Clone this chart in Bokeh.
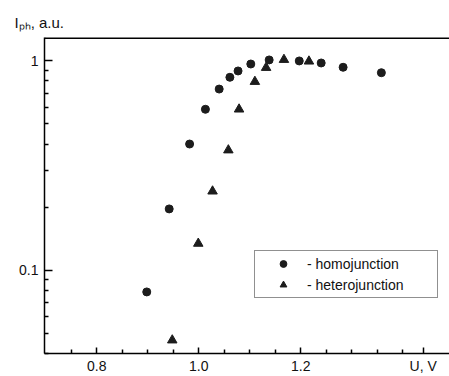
from bokeh.plotting import figure
from bokeh.models import (FixedTicker, Range1d, Legend, LegendItem, Span, Title,
                          CustomJSTickFormatter)
from bokeh.embed import file_html
from bokeh.resources import INLINE

# ---- data ----
homo_v = [0.898, 0.942, 0.982, 1.013, 1.040, 1.061, 1.077, 1.102, 1.138, 1.197, 1.240, 1.283, 1.358]
homo_i = [0.0787, 0.196, 0.400, 0.586, 0.732, 0.833, 0.893, 0.964, 1.008, 0.997, 0.975, 0.930, 0.876]

hetero_v = [0.948, 0.999, 1.027, 1.058, 1.079, 1.110, 1.132, 1.167, 1.216]
hetero_i = [0.0463, 0.134, 0.238, 0.374, 0.586, 0.794, 0.926, 1.011, 0.993]

# x axis: labelled positions (the last one carries the axis title "U, V")
x_label_pos = [0.8, 1.0, 1.2, 1.44]
x_labels = ["0.8", "1.0", "1.2", "U, V"]
x_minor = [0.75, 0.85, 0.9, 0.95, 1.05, 1.1, 1.15, 1.25, 1.3, 1.35, 1.4]

y_major = [0.1, 1.0]
y_labels = ["0.1", "1"]
y_minor = [0.04, 0.05, 0.06, 0.07, 0.08, 0.09, 0.2, 0.3, 0.4, 0.5, 0.6, 0.7, 0.8, 0.9]

y_title = "I\u209a\u2095, a.u."
legend_labels = ["- homojunction", "- heterojunction"]

x_start, x_end = 0.6975, 1.4916
y_start, y_end = 0.04, 1.29

FONT = "Liberation Sans"
INK = "#111111"
MARK = "#1c1c1c"

p = figure(width=449, height=376, x_range=Range1d(x_start, x_end),
           y_range=Range1d(y_start, y_end), y_axis_type="log",
           output_backend="svg", toolbar_location=None,
           min_border_left=44, min_border_top=37, min_border_bottom=22,
           min_border_right=0, background_fill_color="white",
           border_fill_color="white", outline_line_color=None)
p.xgrid.visible = False
p.ygrid.visible = False

p.title = Title(text=y_title, align="left", offset=-30, standoff=14,
                text_font=FONT, text_font_size="15px", text_font_style="normal",
                text_color=INK)

r_homo = p.scatter(homo_v, homo_i, marker="circle", size=8,
                   fill_color=MARK, line_color=MARK)
r_het = p.scatter(hetero_v, hetero_i, marker="triangle", size=9.5,
                  fill_color=MARK, line_color=MARK)

# x axis (ticks inward)
xa = p.xaxis[0]
xa.ticker = FixedTicker(ticks=x_label_pos, minor_ticks=x_minor)
xa.formatter = CustomJSTickFormatter(
    args=dict(pos=x_label_pos, labels=x_labels),
    code="const i = pos.indexOf(tick); return i >= 0 ? labels[i] : '';")
xa.major_tick_in = 6
xa.major_tick_out = 0
xa.minor_tick_in = 4
xa.minor_tick_out = 0
xa.axis_line_width = 1.5
xa.major_tick_line_width = 1.5
xa.minor_tick_line_width = 1.5
xa.axis_line_color = "black"
xa.major_tick_line_color = "black"
xa.minor_tick_line_color = "black"
xa.major_label_text_font = FONT
xa.major_label_text_font_size = "14px"
xa.major_label_text_color = INK
xa.major_label_standoff = 4

# y axis
ya = p.yaxis[0]
ya.ticker = FixedTicker(ticks=y_major, minor_ticks=y_minor)
ya.formatter = CustomJSTickFormatter(
    args=dict(pos=y_major, labels=y_labels),
    code="const i = pos.indexOf(tick); return i >= 0 ? labels[i] : '';")
ya.major_tick_in = 8
ya.major_tick_out = 0
ya.minor_tick_in = 4
ya.minor_tick_out = 0
ya.axis_line_width = 1.5
ya.major_tick_line_width = 1.5
ya.minor_tick_line_width = 1.5
ya.axis_line_color = "black"
ya.major_tick_line_color = "black"
ya.minor_tick_line_color = "black"
ya.major_label_text_font = FONT
ya.major_label_text_font_size = "14px"
ya.major_label_text_color = INK
ya.major_label_standoff = 6

# top frame line
p.add_layout(Span(location=y_end, dimension="width", line_color="black",
                  line_width=3))

legend = Legend(items=[LegendItem(label=legend_labels[0], renderers=[r_homo]),
                       LegendItem(label=legend_labels[1], renderers=[r_het])],
                location=(210, 55), orientation="vertical", padding=4, spacing=4,
                margin=0, glyph_width=48, glyph_height=17, label_standoff=0,
                label_width=126, label_height=17,
                label_text_font=FONT, label_text_font_size="14px",
                label_text_color=INK, border_line_color="#222222",
                border_line_width=1, background_fill_color="white",
                background_fill_alpha=1)
p.add_layout(legend)

open("out.html", "w").write(file_html(p, INLINE))
